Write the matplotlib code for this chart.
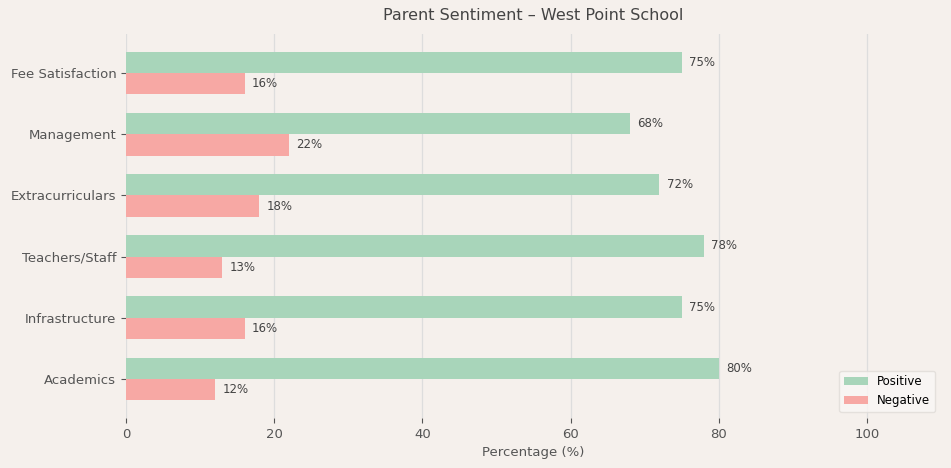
import matplotlib.pyplot as plt
import numpy as np

categories = ['Academics', 'Infrastructure', 'Teachers/Staff', 'Extracurriculars', 'Management', 'Fee Satisfaction']
positive = [80, 75, 78, 72, 68, 75]
negative = [12, 16, 13, 18, 22, 16]

BG = '#f5f0ec'
TEXT = '#555555'

fig = plt.figure(figsize=(9.51, 4.68), dpi=100, facecolor=BG)
ax = fig.add_axes([0.1325, 0.107, 0.857, 0.82])
ax.set_facecolor(BG)

y = np.arange(len(categories))
h = 0.35
ax.barh(y + h / 2, positive, height=h, color='#a8d5ba', label='Positive', zorder=2)
ax.barh(y - h / 2, negative, height=h, color='#f7a8a4', label='Negative', zorder=2)

for i in range(len(categories)):
    ax.text(positive[i] + 1, y[i] + h / 2, f'{positive[i]}%', va='center', ha='left', fontsize=8.5, color='#444444')
    ax.text(negative[i] + 1, y[i] - h / 2, f'{negative[i]}%', va='center', ha='left', fontsize=8.5, color='#444444')

ax.set_yticks(y)
ax.set_yticklabels(categories, fontsize=9.5, color=TEXT)
ax.set_xticks([0, 20, 40, 60, 80, 100])
ax.tick_params(axis='x', labelsize=9.5, labelcolor=TEXT, color='#555555', length=3.5)
ax.tick_params(axis='y', color='#555555', length=3.5)
ax.set_xlim(0, 110)
ax.set_xlabel('Percentage (%)', fontsize=9.5, color=TEXT)
ax.set_title('Parent Sentiment – West Point School', fontsize=11.5, color='#444444', pad=10)

ax.grid(axis='x', color='#dddddd', linewidth=0.9, zorder=0)
ax.set_axisbelow(True)
for s in ax.spines.values():
    s.set_visible(False)

leg = ax.legend(loc='lower right', fontsize=8.5, frameon=True)
leg.get_frame().set_facecolor('#faf7f5')
leg.get_frame().set_edgecolor('#e0dcd8')

fig.savefig('out.png', dpi=100, facecolor=BG)
